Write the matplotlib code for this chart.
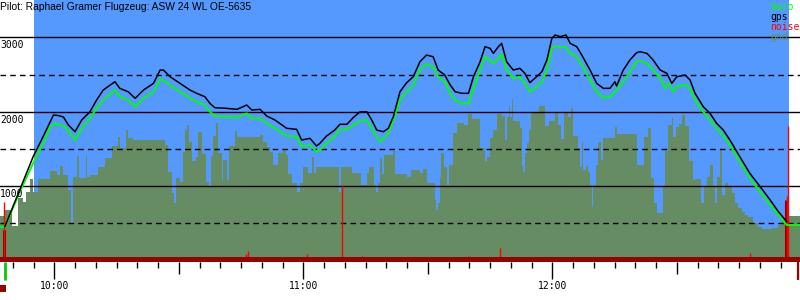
import matplotlib
matplotlib.use('Agg')
import matplotlib.pyplot as plt
import numpy as np

# time in minutes after 10:00, altitude in metres
title = 'Pilot: Raphael Gramer Flugzeug: ASW 24 WL OE-5635'

flight_window = (-4.9, 177.0)

gps_t = [-11.9, -5.1, -2.7, -0.2, 1.0, 2.2, 3.4, 5.0, 6.6, 8.6,
         10.2, 11.8, 14.6, 15.8, 17.8, 19.5, 21.5, 23.9, 25.5, 26.3,
         27.9, 30.3, 32.7, 34.3, 36.3, 37.5, 38.7, 41.5, 44.0, 46.4,
         47.6, 49.6, 51.2, 53.2, 56.0, 58.4, 59.6, 61.6, 63.2, 64.0,
         65.6, 67.6, 68.8, 70.5, 72.1, 73.7, 75.3, 76.5, 77.7, 79.3,
         80.5, 81.7, 83.3, 84.9, 86.5, 88.1, 89.7, 91.3, 92.5, 94.1,
         95.4, 96.6, 98.2, 99.8, 101.0, 102.6, 103.8, 105.0, 105.8, 107.0,
         107.8, 109.0, 110.6, 112.2, 113.4, 114.6, 116.2, 117.5, 118.7, 119.9,
         120.7, 121.9, 123.3, 124.3, 125.9, 127.1, 129.1, 130.7, 132.3, 133.9,
         135.1, 135.5, 137.1, 138.7, 140.3, 141.1, 142.8, 144.3, 146.0, 147.6,
         148.8, 150.0, 152.0, 153.2, 154.4, 156.4, 158.0, 159.6, 161.2, 162.8,
         165.2, 167.6, 170.1, 172.5, 174.5, 176.5]
gps_alt = [455, 1394, 1664, 1956, 1949, 1929, 1821, 1731, 1888, 2000,
           2158, 2292, 2404, 2315, 2269, 2181, 2292, 2382, 2561, 2561,
           2471, 2382, 2292, 2248, 2202, 2113, 2054, 2046, 2032, 2090,
           2023, 2032, 1942, 1888, 1777, 1763, 1619, 1642, 1539, 1575,
           1673, 1754, 1831, 1831, 1925, 2000, 2000, 1888, 1754, 1731,
           1777, 1933, 2269, 2391, 2471, 2673, 2763, 2740, 2561, 2494,
           2360, 2269, 2248, 2248, 2471, 2673, 2875, 2854, 2786, 2875,
           2921, 2673, 2561, 2584, 2517, 2391, 2471, 2539, 2696, 2988,
           3033, 3010, 3033, 2921, 2875, 2763, 2561, 2382, 2315, 2315,
           2404, 2346, 2561, 2696, 2794, 2808, 2786, 2696, 2561, 2517,
           2382, 2471, 2494, 2427, 2248, 2067, 1979, 1844, 1754, 1619,
           1394, 1171, 991, 812, 654, 520]

baro_t = [-13.1, -11.9, -8.3, -5.1, -2.7, -1.0, 0.2, 1.4, 2.6, 3.8,
          5.0, 6.6, 8.6, 10.2, 11.8, 14.6, 15.8, 17.8, 19.5, 21.5,
          23.9, 25.5, 26.3, 27.9, 30.3, 32.7, 34.3, 36.3, 37.5, 38.7,
          41.5, 44.0, 46.4, 47.6, 49.6, 51.2, 53.2, 56.0, 58.4, 59.6,
          61.6, 63.2, 64.0, 65.6, 67.6, 68.8, 70.5, 72.1, 73.7, 75.3,
          76.5, 77.7, 78.5, 79.3, 80.5, 81.7, 83.3, 84.9, 86.5, 88.1,
          89.7, 91.3, 92.5, 94.1, 95.4, 96.6, 98.2, 99.8, 101.0, 102.6,
          103.8, 105.0, 105.8, 107.0, 107.8, 109.0, 110.6, 112.2, 113.4, 114.6,
          116.2, 117.5, 118.7, 119.9, 120.7, 121.9, 123.3, 124.3, 125.9, 127.1,
          129.1, 130.7, 132.3, 133.9, 135.1, 137.1, 138.7, 140.3, 141.1, 142.8,
          144.3, 146.0, 147.2, 148.0, 149.2, 150.0, 152.0, 153.2, 154.4, 156.4,
          158.0, 159.6, 161.2, 162.8, 165.2, 167.6, 170.1, 172.5, 174.5, 176.5,
          179.7]
baro_alt = [452, 452, 923, 1306, 1575, 1798, 1844, 1821, 1798, 1709,
            1619, 1777, 1911, 2046, 2158, 2292, 2202, 2158, 2067, 2181,
            2269, 2436, 2427, 2360, 2269, 2181, 2135, 2090, 2000, 1942,
            1933, 1919, 1979, 1911, 1911, 1844, 1777, 1673, 1664, 1529,
            1552, 1462, 1485, 1575, 1673, 1763, 1763, 1821, 1879, 1888,
            1777, 1664, 1596, 1642, 1709, 1888, 2158, 2269, 2360, 2571,
            2642, 2606, 2471, 2404, 2248, 2158, 2113, 2113, 2315, 2561,
            2740, 2696, 2652, 2719, 2777, 2561, 2450, 2471, 2382, 2269,
            2337, 2404, 2561, 2854, 2884, 2867, 2875, 2786, 2740, 2629,
            2427, 2269, 2189, 2202, 2269, 2404, 2539, 2673, 2687, 2652,
            2561, 2450, 2315, 2382, 2269, 2346, 2360, 2315, 2158, 2000,
            1888, 1777, 1673, 1552, 1327, 1104, 923, 744, 610, 475,
            475]

# ground elevation, step start times + last edge
gnd_t = [-13.1, -11.9, -10.3, -8.7, -7.5, -6.7, -5.9, -5.1, -3.9, -1.0,
         0.6, 1.4, 2.2, 3.4, 4.0, 4.4, 5.5, 6.0, 7.6, 8.0,
         8.6, 10.6, 12.2, 13.8, 15.4, 15.8, 17.4, 17.8, 19.0, 26.7,
         27.5, 28.3, 28.8, 29.3, 30.3, 30.9, 31.5, 31.9, 32.5, 33.1,
         34.1, 34.7, 35.5, 35.9, 36.6, 37.3, 37.8, 38.3, 39.0, 39.5,
         40.3, 40.7, 41.5, 42.2, 43.5, 44.1, 49.6, 50.4, 51.2, 52.0,
         52.8, 53.8, 55.2, 55.8, 56.4, 57.4, 58.4, 59.2, 60.0, 61.2,
         62.0, 62.6, 63.1, 68.7, 69.0, 71.7, 73.8, 75.3, 75.9, 77.0,
         77.5, 77.9, 78.5, 78.9, 79.4, 81.7, 82.1, 85.1, 85.9, 88.1,
         88.8, 89.7, 91.8, 92.1, 92.5, 92.9, 93.3, 93.9, 94.7, 95.2,
         96.0, 97.1, 98.7, 99.8, 100.6, 102.6, 103.8, 104.3, 105.0, 105.8,
         106.6, 108.0, 108.6, 109.0, 109.6, 109.8, 110.4, 110.6, 112.2, 112.6,
         113.0, 113.4, 113.8, 114.5, 114.9, 116.9, 118.2, 119.3, 120.7, 121.4,
         122.0, 122.8, 123.9, 124.4, 125.1, 126.1, 126.7, 127.1, 127.5, 128.1,
         128.7, 129.1, 129.6, 129.9, 130.5, 131.1, 131.7, 132.3, 135.1, 135.7,
         140.3, 142.1, 143.1, 143.7, 144.5, 145.2, 146.6, 147.2, 148.0, 148.8,
         149.2, 149.8, 150.6, 151.2, 152.0, 153.0, 153.8, 154.4, 155.8, 156.6,
         157.2, 158.0, 158.7, 159.2, 159.8, 160.4, 160.8, 161.6, 162.4, 163.2,
         164.0, 164.8, 165.6, 166.4, 167.2, 168.4, 169.6, 170.5, 172.9, 174.5,
         175.3, 176.1, 177.0]
gnd_end = 179.7
gnd_alt = [596, 677, 462, 838, 785, 919, 1094, 919, 1094, 1202,
           1148, 1269, 1148, 946, 502, 1121, 1404, 1108, 1404, 1121,
           1148, 1256, 1377, 1538, 1660, 1511, 1754, 1646, 1619, 1552,
           1188, 906, 771, 1108, 1054, 1458, 1754, 1821, 1592, 1337,
           1390, 1727, 1444, 1431, 1054, 987, 1404, 1673, 1848, 1444,
           1081, 1350, 1081, 1538, 1740, 1660, 1686, 1592, 1525, 1458,
           1283, 1444, 1471, 1417, 1161, 1040, 919, 1040, 1256, 1175,
           1390, 1175, 1256, 919, 1256, 1175, 1013, 1175, 1256, 1013,
           919, 1040, 1377, 1161, 1417, 1471, 1161, 1121, 1215, 1175,
           1229, 1040, 812, 677, 771, 1121, 1444, 1256, 1013, 1283,
           1713, 1848, 1821, 1969, 1902, 1511, 1337, 1390, 1646, 1754,
           1969, 1942, 1619, 1929, 2077, 1929, 2171, 1875, 1781, 1269,
           1188, 1444, 1579, 1754, 1983, 2077, 1808, 1875, 1996, 1821,
           1633, 1983, 1929, 2050, 1673, 1511, 1256, 1592, 1215, 1269,
           1188, 1013, 717, 1013, 1283, 1592, 1350, 1646, 1794, 1700,
           1283, 1660, 1781, 1108, 771, 637, 1000, 1471, 1821, 1929,
           1660, 1794, 1835, 1956, 1808, 1337, 1081, 1094, 771, 1000,
           1121, 1283, 1000, 771, 1121, 1484, 879, 1040, 987, 906,
           771, 704, 650, 610, 583, 502, 448, 421, 435, 475,
           542, 650, 596]

noise_t = [-12.2, 46.2, 46.7, 61.0, 69.4, 74.2, 100.0, 107.5, 167.7, 176.5, 176.9]
noise_v = [785, 85, 125, 85, 1013, 58, 58, 170, 102, 866, 1808]
noise_dark_t = [-12.2, 176.3]
noise_dark_v = [408, 812]

takeoff_t = -11.9
landing_t = 179.3

solid_levels = [1000, 2000, 3000]
dashed_levels = [500, 1500, 2500]
hour_labels = ['10:00', '11:00', '12:00']
hour_t = [0, 60, 120]

BLUE = '#5599ff'
GND = '#658c63'
DARKRED = '#990000'
MONO = 'DejaVu Sans Mono'

fig = plt.figure(figsize=(8, 3), dpi=100)
ax = fig.add_axes([0, 0, 1, 1])
ax.set_xlim(-13.08, 179.69)
ax.set_ylim(-534, 3504)
ax.axis('off')

# flight window background
ax.fill_between(flight_window, 0, 3504, color=BLUE, lw=0, zorder=1)

# ground
ax.stairs(gnd_alt, gnd_t + [gnd_end], baseline=0, fill=True, color=GND, lw=0, zorder=2)

# grid
for lev in solid_levels:
    ax.axhline(lev, color='black', lw=1.0, zorder=3)
    ax.annotate(str(lev), (0, lev), xycoords=('axes fraction', 'data'),
                xytext=(0, -3), textcoords='offset pixels', ha='left', va='top',
                fontsize=7, family=MONO, color='black', zorder=6)
for lev in dashed_levels:
    ax.axhline(lev, color='black', lw=1.0, ls=(0, (4, 3)), zorder=3)

# noise
ax.vlines(noise_dark_t, 0, noise_dark_v, color=DARKRED, lw=2.2, zorder=4)
ax.vlines(noise_t, 0, noise_v, color='#ff0000', lw=1.0, zorder=4)
ax.axhspan(-23, 48, color=DARKRED, lw=0, zorder=4)

# baro / gps
ax.plot(baro_t, baro_alt, color='#00ff00', lw=1.4, zorder=5)
ax.plot(gps_t, gps_alt, color='black', lw=1.1, zorder=5)

# time axis
for m in np.arange(-10, 180, 5):
    if m % 60 == 0:
        bottom = -258
    elif m % 30 == 0:
        bottom = -178
    else:
        bottom = -97
    ax.vlines(m, bottom, -23, color='black', lw=1.0, zorder=4)
for m, lab in zip(hour_t, hour_labels):
    ax.text(m, -346, lab, ha='center', va='center', fontsize=7, family=MONO)

# takeoff / landing markers
ax.vlines(takeoff_t, -265, -23, color='#00cc00', lw=2.0, zorder=4)
ax.vlines(landing_t, -265, -23, color=DARKRED, lw=1.6, zorder=4)
ax.fill_between([-13.1, -11.6], -427, -333, color=DARKRED, lw=0)

# title and legend
ax.text(0.0, 1 - 2 / 300, title, transform=ax.transAxes, ha='left', va='top',
        fontsize=7.4, family='Liberation Sans', zorder=7)
legend = [('baro', '#00ff00'), ('gps', 'black'), ('noise', '#ff0000'), ('gnd', '#6b8e60')]
for i, (name, col) in enumerate(legend):
    ax.text(770 / 800, 1 - (10 + 10 * i) / 300, name, transform=ax.transAxes,
            ha='left', va='baseline', fontsize=7, family=MONO, color=col, zorder=7)

fig.savefig('out.png', dpi=100)
